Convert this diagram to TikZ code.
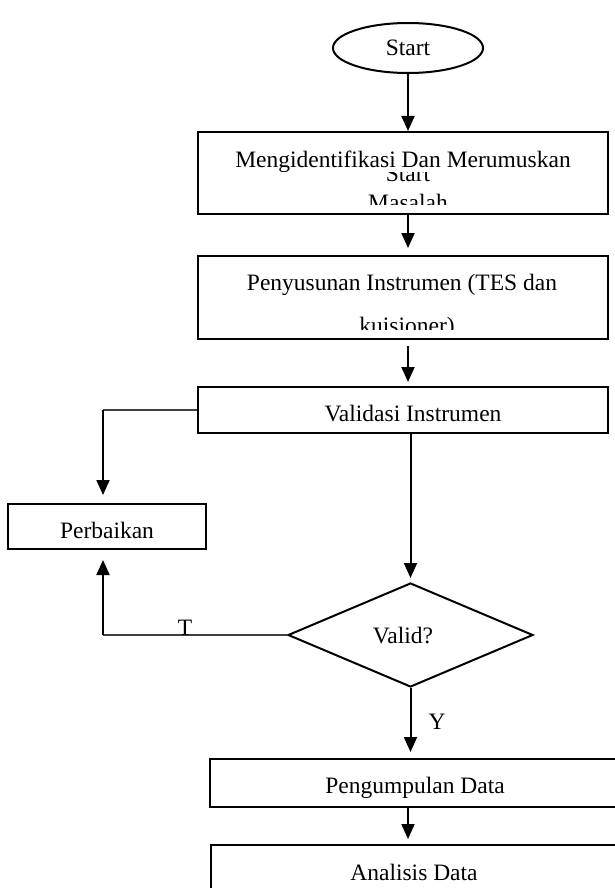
\documentclass[tikz,border=0pt]{standalone}
\usepackage{fontspec}
\setmainfont{Liberation Serif}
\usetikzlibrary{arrows.meta,shapes.geometric}
\begin{document}
\begin{tikzpicture}[x=1pt,y=-1pt,
  font=\fontsize{23.5}{28}\selectfont,
  box/.style={draw,line width=2pt,rectangle,inner sep=0pt},
  txt/.style={anchor=base,inner sep=0pt},
  arr/.style={line width=2pt,-{Triangle[length=15pt,width=13pt]}},
  thinline/.style={line width=1.3pt,draw=black!75}]
\clip (0,0) rectangle (615,888);
\fill[white] (0,0) rectangle (615,888);
% Start
\node[ellipse,draw,line width=2pt,minimum width=150pt,minimum height=50pt,inner sep=0pt] (start) at (408,48) {Start};
% Box 1
\node[box,minimum width=410pt,minimum height=82pt] (box1) at (403,173) {};
\begin{scope}
\clip (198,132) rectangle (608,204);
\node[txt] (s2) at (408,181) {Start};
\node[txt,fill=white] (t1) at (403,167) {Mengidentifikasi Dan Merumuskan};
\node[txt] (t1b) at (408,210) {Masalah};
\end{scope}
% Box 2
\node[box,minimum width=410pt,minimum height=83pt] (box2) at (403,297.5) {};
\begin{scope}
\clip (198,256) rectangle (608,329);
\node[txt] (t2) at (402,290) {Penyusunan Instrumen (TES dan};
\node[txt] (t2b) at (407,333) {kuisioner)};
\end{scope}
% Box 3
\node[box,minimum width=410pt,minimum height=46pt] (box3) at (403,410) {};
\node[txt] (t3) at (413,421) {Validasi Instrumen};
% Perbaikan
\node[box,minimum width=198pt,minimum height=45pt] (perb) at (107,526.5) {};
\node[txt] (tp) at (107,538) {Perbaikan};
% Diamond
\node[diamond,draw,line width=2pt,minimum width=245pt,minimum height=104pt,inner sep=0pt] (dia) at (410.5,635) {};
\node[txt] (td) at (403,643) {Valid?};
% Pengumpulan
\node[box,minimum width=450pt,minimum height=48pt] (peng) at (435,783) {};
\node[txt] (tpg) at (415,793) {Pengumpulan Data};
% Analisis
\node[box,minimum width=449pt,minimum height=75pt] (anal) at (435.5,882.5) {};
\node[txt] (tan) at (414,880) {Analisis Data};
% main arrows
\draw[arr] (start.south) -- (start.south |- box1.north);
\draw[arr,shorten >=7pt] (start.south |- box1.south) -- (start.south |- box2.north);
\draw[arr,shorten <=6pt,shorten >=4pt] (start.south |- box2.south) -- (start.south |- box3.north);
\draw[arr,shorten >=4pt] (dia.north |- box3.south) -- (dia.north);
\draw[arr,shorten >=6pt] (dia.south) -- (dia.south |- peng.north);
\draw[arr,shorten >=5pt] (start.south |- peng.south) -- (start.south |- anal.north);
% left connectors
\coordinate (c1) at (103,412);
\coordinate (c2) at (103,636);
\draw[thinline] (box3.west) -- (box3.west -| c1);
\draw[arr,shorten >=8pt] (box3.west -| c1) -- (c1 |- perb.north);
\draw[thinline] (dia.west) -- (dia.west -| c2);
\draw[arr,shorten >=10pt] (dia.west -| c2) -- (c2 |- perb.south);
\node[txt] (tl) at (185,635) {T};
\node[inner sep=0pt] (yl) at (437,722) {Y};
\end{tikzpicture}
\end{document}
